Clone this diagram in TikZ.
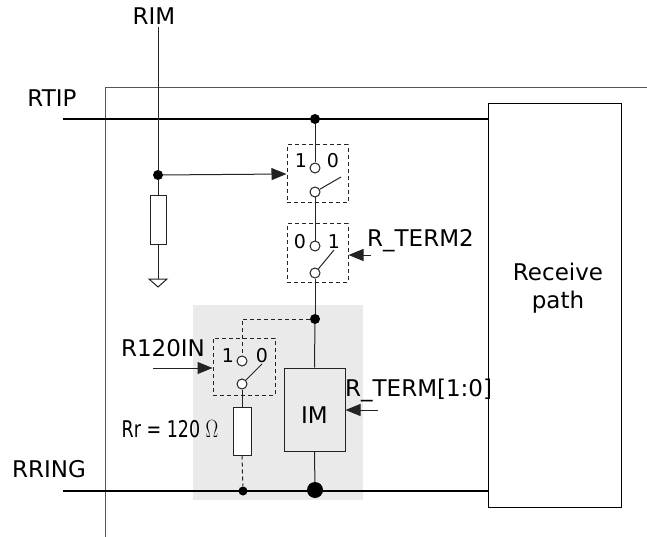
\documentclass[tikz,border=0pt]{standalone}
\usepackage{fontspec}
\setmainfont{DejaVu Sans}
\usetikzlibrary{arrows.meta}
\definecolor{ColWire}{RGB}{35,35,35}
\definecolor{ColFrame}{RGB}{85,85,85}
\definecolor{ColShade}{RGB}{234,234,234}
\tikzstyle{Wire}=[line width=1pt,ColWire]
\tikzstyle{Bus}=[line width=2pt,black]
\tikzstyle{SwitchBox}=[draw=ColWire,dash pattern=on 4pt off 3pt,line width=1pt,
minimum width=61pt,minimum height=58pt,inner sep=0pt]
\tikzstyle{Contact}=[circle,draw=ColWire,fill=white,line width=1pt,inner sep=0pt,minimum size=10pt]
\tikzstyle{Resistor}=[rectangle,draw=ColWire,fill=white,line width=1pt,inner sep=0pt,
minimum width=16pt,minimum height=48pt]
\tikzstyle{Junction}=[circle,fill=black,inner sep=0pt,minimum size=10pt]
\tikzstyle{BigJunction}=[circle,fill=black,inner sep=0pt,minimum size=16pt]
\tikzstyle{Signal}=[Wire,-{Triangle[length=15pt,width=12pt]}]
\tikzstyle{Label}=[inner sep=0pt,font=\fontsize{23}{28}\selectfont]
\tikzstyle{Digit}=[inner sep=0pt,anchor=base,font=\fontsize{19}{22}\selectfont]

\begin{document}
\begin{tikzpicture}[x=1pt,y=-1pt]
        \useasboundingbox (0,0) rectangle (647,537);
        % shaded termination block
        \fill[ColShade] (193,305) rectangle (363,500);
        \draw[line width=1pt,ColFrame] (105,537) -- (105,88) -- (647,88);
        % receive path
        \node[draw,line width=1pt,minimum width=133pt,minimum height=404pt](rx)at(555,305.7){};
        \node[Label,align=center](rxtext)at(558,288){Receive\\path};
        % bus lines
        \coordinate (rtipL) at (63,119);
        \coordinate (rringL) at (63,491);
        \draw[Bus](rtipL)--(rtipL-|rx.west);
        \draw[Bus](rringL)--(rringL-|rx.west);
        \node[Label,anchor=base](rtip)at(52,107){RTIP};
        \node[Label,anchor=base](rring)at(49,477){RRING};
        % RIM input
        \coordinate (rimT) at (158,27);
        \node[Label,anchor=base](rim)at(154,25){RIM};
        \node[Junction](j2)at(158,175){};
        \node[Resistor](ra)at(158,220){};
        \coordinate (gnd) at (158,279);
        \draw[Wire](rimT)--(j2);
        \draw[Wire](j2)--(ra.north);
        \draw[Wire](ra.south)--(gnd);
        \draw[Wire,fill=white](gnd)++(-9,0)--++(18,0)--++(-9,8)--cycle;
        % switch 1
        \node[Junction](j1)at(315,119){};
        \node[SwitchBox](sw1)at(317.5,174){};
        \node[Contact](s1t)at(315,168){};
        \node[Contact](s1b)at(315,192){};
        \coordinate (s1l) at (341,177);
        \node[Digit](s1one)at(301,168){1};
        \node[Digit](s1zero)at(333,168){0};
        \draw[Wire](j1)--(s1t);
        \draw[Wire](s1b)--(s1l);
        \draw[Signal](j2)--(sw1.west);
        % switch 2
        \node[SwitchBox](sw2)at(317.5,253){};
        \node[Contact](s2t)at(315,246){};
        \node[Contact](s2b)at(315,273){};
        \coordinate (s2l) at (334,250);
        \node[Digit](s2zero)at(300,248){0};
        \node[Digit](s2one)at(334,248){1};
        \draw[Wire](s1b)--(s2t);
        \draw[Wire](s2b)--(s2l);
        \coordinate (t2) at (371,255);
        \draw[Signal](t2)--(t2-|sw2.east);
        \node[Label,anchor=base west](rterm2)at(367,247){R\_TERM2};
        % impedance matching
        \node[Junction](j3)at(315,319){};
        \node[draw=ColWire,line width=1pt,minimum width=61pt,minimum height=83pt](im)at(314.5,409.5){};
        \node[Label,anchor=base](imtext)at(314.5,423){IM};
        \node[BigJunction](j4)at(315,490){};
        \draw[Wire](s2b)--(j3);
        \draw[Wire](j3)--(im.north);
        \draw[Wire](im.south)--(j4);
        \coordinate (tim) at (378,410);
        \draw[Signal](tim)--(tim-|im.east);
        \node[Label,anchor=base west](rterm)at(345,396){R\_TERM[1:0]};
        % switch 3 and 120 ohm resistor
        \node[SwitchBox,minimum width=62pt,minimum height=57pt](sw3)at(244,366.5){};
        \node[Contact](s3t)at(242,361){};
        \node[Contact](s3b)at(242,384){};
        \coordinate (s3l) at (262,364);
        \node[Digit](s3one)at(228,362){1};
        \node[Digit](s3zero)at(262,362){0};
        \draw[Wire](s3b)--(s3l);
        \draw[Wire,dash pattern=on 4pt off 3pt](j3)-|(s3t);
        \coordinate (t3) at (153,368);
        \draw[Signal](t3)--(t3-|sw3.west);
        \node[Label,anchor=base](r120)at(163,356){R120IN};
        \node[Resistor,minimum width=18pt](rb)at(242,431){};
        \node[Junction,minimum size=9pt](j5)at(243,491){};
        \draw[Wire](s3b)--(rb.north);
        \draw[Wire,dash pattern=on 4pt off 3pt](rb.south)--(j5);
        \node[Label,anchor=base](rr)at(170,437){\scalebox{0.76}[1]{Rr = 120 $\Omega$}};
    \end{tikzpicture}
\end{document}
